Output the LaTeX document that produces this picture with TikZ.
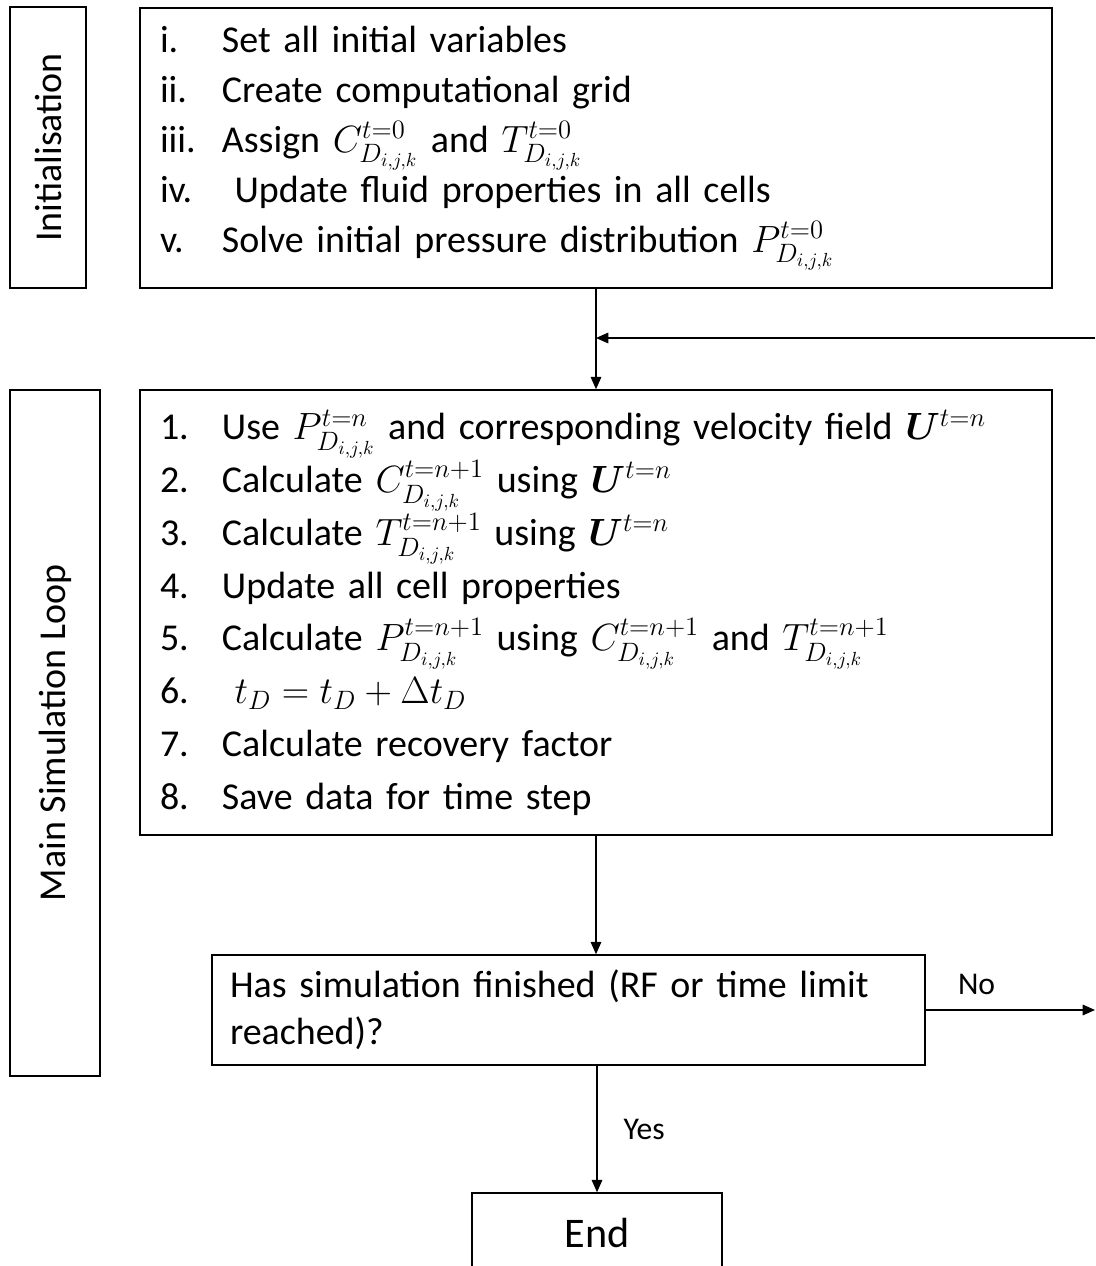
\RequirePackage{fix-cm}
\documentclass[tikz,border=0pt]{standalone}
\usepackage{amsmath}
\usepackage{bm}
\usepackage{fontspec}
\setmainfont{Carlito}
\usetikzlibrary{arrows.meta}
\tikzstyle{box}=[draw, line width=0.9pt, inner sep=0pt]
\tikzstyle{flow}=[line width=0.8pt, -{Triangle[length=7pt,width=6pt]}]
\tikzstyle{txt}=[font=\fontsize{21.6}{27}\selectfont]
\newcommand{\itm}[1]{\makebox[1.24cm][l]{#1}}
\newcommand{\Dijk}{D_{i,j,k}}

\begin{document}
\begin{tikzpicture}
	\useasboundingbox (0,0) rectangle (21.9,-25.32);
	\clip (0,0) rectangle (21.9,-25.32);
	% side labels
	\node[box, txt, rotate=90, minimum width=5.62cm, minimum height=1.52cm] (initlbl) at (0.96,-2.95) {Initialisation};
	\node[box, txt, rotate=90, minimum width=13.72cm, minimum height=1.8cm] (looplbl) at (1.1,-14.66) {Main Simulation Loop};
	% initialisation block
	\node[box, font=\fontsize{21.6}{28.5}\selectfont, minimum width=18.24cm, minimum height=5.6cm, text width=17.44cm, inner xsep=0.4cm, align=left] (init) at (11.92,-2.96) {
		\itm{i.}Set all initial variables\\
		\itm{ii.}Create computational grid\\
		\itm{iii.}Assign $C_{\Dijk}^{t=0}$ and $T_{\Dijk}^{t=0}$\\
		\itm{iv.}\ Update fluid properties in all cells\\
		\itm{v.}Solve initial pressure distribution $P_{\Dijk}^{t=0}$};
	% main loop block
	\node[box, font=\fontsize{21.6}{30}\selectfont, minimum width=18.24cm, minimum height=8.9cm, text width=17.44cm, inner xsep=0.4cm, align=left] (main) at (11.92,-12.25) {
		\itm{1.}Use $P_{\Dijk}^{t=n}$ and corresponding velocity field $\bm{U}^{t=n}$\\
		\itm{2.}Calculate $C_{\Dijk}^{t=n+1}$ using $\bm{U}^{t=n}$\\
		\itm{3.}Calculate $T_{\Dijk}^{t=n+1}$ using $\bm{U}^{t=n}$\\
		\itm{4.}Update all cell properties\\
		\itm{5.}Calculate $P_{\Dijk}^{t=n+1}$ using $C_{\Dijk}^{t=n+1}$ and $T_{\Dijk}^{t=n+1}$\\
		\itm{6.}\ $t_D=t_D+\Delta t_D$\\
		\itm{7.}Calculate recovery factor\\
		\itm{8.}Save data for time step};
	\node[box, txt, minimum width=14.26cm, minimum height=2.2cm, text width=13.54cm, inner xsep=0.36cm, align=left] (dec) at (11.37,-20.2) {Has simulation finished (RF or time limit\\reached)?};
	\node[box, font=\fontsize{24}{28}\selectfont, minimum width=5cm, minimum height=1.6cm] (end) at (11.94,-24.66) {End};
	% connectors
	\coordinate (loopin) at (21.9,-6.76);
	\coordinate (noout) at (dec.east -| loopin);
	\draw[flow] (init.south) -- (main.north);
	\draw[flow] (loopin) -- (loopin -| init.south);
	\draw[flow] (main.south) -- (main.south |- dec.north);
	\draw[flow] (dec.east) -- node[pos=0.3, above=5pt, font=\fontsize{18}{22}\selectfont] (nolbl) {No} (noout);
	\draw[flow] (end.north |- dec.south) -- node[right=0.4cm, font=\fontsize{18}{22}\selectfont] (yeslbl) {Yes} (end.north);
\end{tikzpicture}
\end{document}
